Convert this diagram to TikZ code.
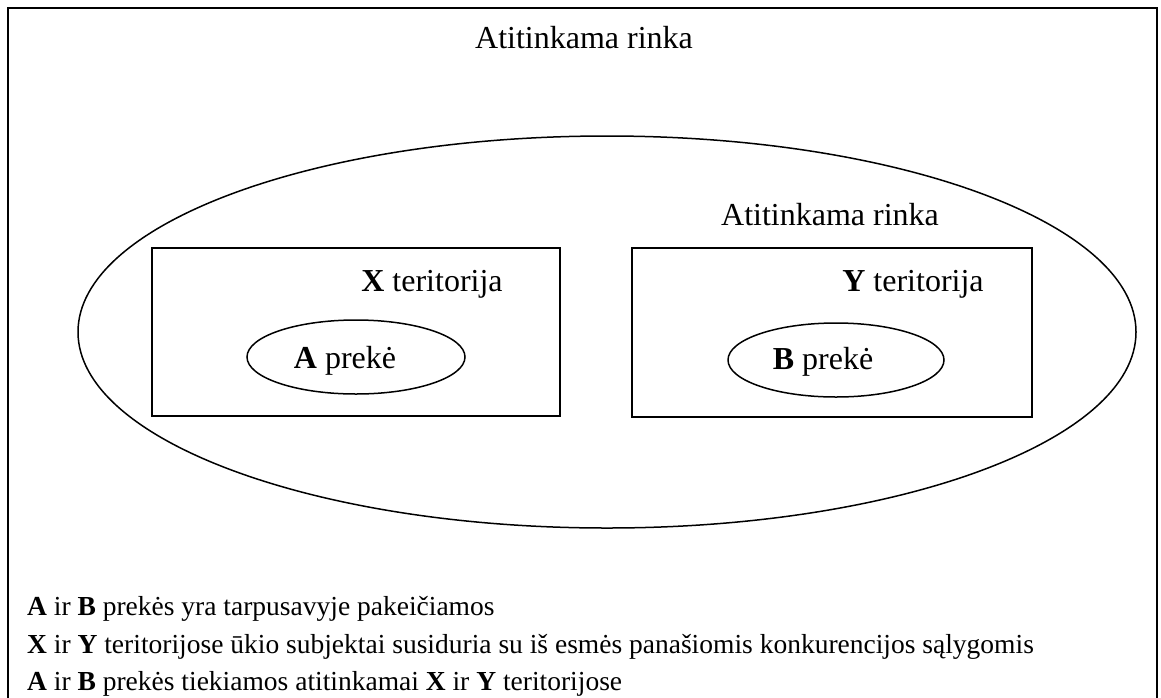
\documentclass[tikz,border=0pt]{standalone}
\usepackage{fontspec}
\setmainfont{Liberation Serif}
\usetikzlibrary{shapes.geometric}
\begin{document}
\begin{tikzpicture}[x=1pt,y=-1pt,
  big/.style={font=\fontsize{32}{38}\selectfont, inner sep=0pt, anchor=base},
  note/.style={font=\fontsize{27.5}{33}\selectfont, inner sep=0pt, anchor=base west},
  oval/.style={draw, ellipse, line width=1.5pt, inner sep=0pt},
  box/.style={draw, rectangle, line width=1.5pt, inner sep=0pt}]
\useasboundingbox (0,0) rectangle (1161,697);
\begin{scope}
\clip (0,0) rectangle (1161,697);
\draw[line width=2.5pt] (8,8) rectangle (1157,720);
\end{scope}
\node[big] (title) at (584,48) {Atitinkama rinka};
\node[oval, minimum width=1058pt, minimum height=392pt] (bigell) at (607,332) {};
\node[big] (inner) at (830,225) {Atitinkama rinka};
\node[box, minimum width=408pt, minimum height=168pt] (rectX) at (356,332) {};
\node[box, minimum width=400pt, minimum height=169pt] (rectY) at (832,332.5) {};
\node[big] (xt) at (432,291) {\textbf{X} teritorija};
\node[big] (yt) at (913,291) {\textbf{Y} teritorija};
\node[oval, minimum width=218pt, minimum height=74pt] (ellA) at (356,357) {};
\node[oval, minimum width=216pt, minimum height=74pt] (ellB) at (836,360) {};
\node[big] (ap) at (345,368) {\textbf{A} prekė};
\node[big] (bp) at (823,369) {\textbf{B} prekė};
\node[note] (l1) at (27,615) {\textbf{A} ir \textbf{B} prekės yra tarpusavyje pakeičiamos};
\node[note] (l2) at (27,653) {\textbf{X} ir \textbf{Y} teritorijose ūkio subjektai susiduria su iš esmės panašiomis konkurencijos sąlygomis};
\node[note] (l3) at (27,690) {\textbf{A} ir \textbf{B} prekės tiekiamos atitinkamai \textbf{X} ir \textbf{Y} teritorijose};
\end{tikzpicture}
\end{document}
